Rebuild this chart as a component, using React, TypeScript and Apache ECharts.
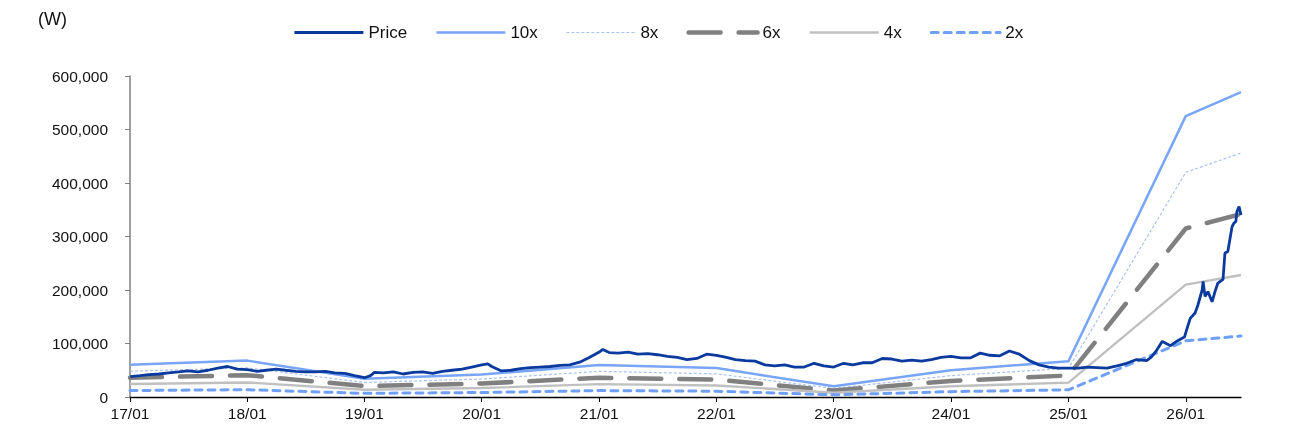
import React, { useEffect, useRef } from "react";
import * as echarts from "echarts";

const FONT = "'Liberation Sans', Arial, sans-serif";

// Series names (legend order)
const seriesNames = ["Price", "10x", "8x", "6x", "4x", "2x"];

// PER band anchor dates (yearly) and band values (won)
const bandDates = [
  "2017-01-01", "2018-01-01", "2019-01-01", "2020-01-01", "2021-01-01",
  "2022-01-01", "2023-01-01", "2024-01-01", "2025-01-01", "2026-01-01", "2026-06-22",
];
const band10x = [60400, 68000, 34000, 42000, 60000, 54000, 20000, 50000, 67000, 525000, 570000];
const band8x = [48300, 54400, 27200, 33600, 48000, 43200, 16000, 40000, 53600, 420000, 456000];
const band6x = [36200, 40800, 20400, 25200, 36000, 32400, 12000, 30000, 40200, 315000, 342000];
const band4x = [24200, 27200, 13600, 16800, 24000, 21600, 8000, 20000, 26800, 210000, 228000];
const band2x = [12100, 13600, 6800, 8400, 12000, 10800, 4000, 10000, 13400, 105000, 114000];

// Share price (won)
const priceDates = [
  "2017-01-02", "2017-02-01", "2017-03-01", "2017-04-01", "2017-05-01", "2017-06-01",
  "2017-07-01", "2017-08-01", "2017-09-01", "2017-10-01", "2017-11-01", "2017-12-01",
  "2018-01-01", "2018-02-01", "2018-03-01", "2018-04-01", "2018-05-01", "2018-06-01",
  "2018-07-01", "2018-08-01", "2018-09-01", "2018-10-01", "2018-11-01", "2018-12-01",
  "2019-01-01", "2019-01-20", "2019-02-01", "2019-03-01", "2019-04-01", "2019-05-01", "2019-06-01",
  "2019-07-01", "2019-08-01", "2019-09-01", "2019-10-01", "2019-11-01", "2019-12-01",
  "2020-01-01", "2020-01-20", "2020-02-01", "2020-03-01", "2020-04-01", "2020-05-01", "2020-06-01",
  "2020-07-01", "2020-08-01", "2020-09-01", "2020-10-01", "2020-11-01", "2020-12-01",
  "2021-01-01", "2021-01-12", "2021-02-01", "2021-03-01", "2021-04-01", "2021-05-01", "2021-06-01",
  "2021-07-01", "2021-08-01", "2021-09-01", "2021-10-01", "2021-11-01", "2021-12-01",
  "2022-01-01", "2022-02-01", "2022-03-01", "2022-04-01", "2022-05-01", "2022-06-01",
  "2022-07-01", "2022-08-01", "2022-09-01", "2022-10-01", "2022-11-01", "2022-12-01",
  "2023-01-01", "2023-02-01", "2023-03-01", "2023-04-01", "2023-05-01", "2023-06-01",
  "2023-07-01", "2023-08-01", "2023-09-01", "2023-10-01", "2023-11-01", "2023-12-01",
  "2024-01-01", "2024-02-01", "2024-03-01", "2024-04-01", "2024-05-01", "2024-06-01",
  "2024-07-01", "2024-08-01", "2024-09-01", "2024-10-01", "2024-11-01", "2024-12-01",
  "2025-01-01", "2025-02-01", "2025-03-01", "2025-04-01", "2025-05-01", "2025-06-01",
  "2025-07-01", "2025-08-01", "2025-09-01", "2025-09-15", "2025-10-01", "2025-10-20",
  "2025-11-01", "2025-11-15", "2025-12-01", "2025-12-15", "2025-12-28",
  "2026-01-06", "2026-01-15", "2026-01-30", "2026-02-08", "2026-02-21", "2026-02-24",
  "2026-03-02", "2026-03-11", "2026-03-24", "2026-04-02", "2026-04-11", "2026-04-27",
  "2026-05-03", "2026-05-12", "2026-05-25", "2026-05-31", "2026-06-06", "2026-06-09",
  "2026-06-16", "2026-06-22",
];
const priceValues = [
  38000, 40000, 42000, 43000, 45000, 47000, 49000, 47000, 50000, 54000, 57000, 52000,
  51000, 48000, 50000, 52000, 50000, 48000, 47000, 47000, 48000, 45000, 44000, 40000,
  36000, 40000, 46000, 45000, 47000, 43000, 46000, 47000, 44000, 48000, 50000, 52000, 56000,
  60000, 62000, 57000, 49000, 50000, 53000, 55000, 56000, 57000, 59000, 60000, 65000, 74000,
  84000, 89000, 83000, 82000, 84000, 80000, 81000, 79000, 76000, 74000, 70000, 72000, 80000,
  78000, 74000, 70000, 68000, 67000, 60000, 58000, 60000, 56000, 56000, 63000, 58000,
  56000, 63000, 60000, 64000, 64000, 72000, 71000, 67000, 69000, 67000, 70000, 74000,
  76000, 73000, 73000, 82000, 78000, 77000, 86000, 80000, 68000, 60000, 56000, 54000,
  54000, 54000, 56000, 55000, 54000, 58000, 63000, 70000, 68000, 74000, 86000, 104000,
  100000, 96000, 103000, 108000, 112000,
  130000, 147000, 157000, 172000, 200000, 216000, 188000, 197000, 178000, 197000, 213000, 220000,
  269000, 272000, 318000, 325000, 328000, 346000, 356000, 340000,
];

const yTicks = [0, 100000, 200000, 300000, 400000, 500000, 600000];

const DAY = 24 * 3600 * 1000;

function pair(dates: string[], vals: number[]) {
  return dates.map((d, i) => [d, vals[i]]);
}

export default function App() {
  const ref = useRef<HTMLDivElement>(null);
  useEffect(() => {
    if (!ref.current) return;
    const chart = echarts.init(ref.current, null, { renderer: "svg" });
    const bandBase = {
      type: "line",
      symbol: "none",
      showSymbol: false,
      smooth: false,
      z: 2,
    };
    chart.setOption({
      animation: false,
      textStyle: { fontFamily: FONT },
      grid: { left: 130, right: 51, top: 76, bottom: 41 },
      legend: {
        data: seriesNames,
        left: 293,
        top: 24,
        padding: 0,
        itemWidth: 69,
        itemHeight: 14,
        itemGap: 28,
        itemStyle: { opacity: 0 },
        lineStyle: { width: "inherit" },
        textStyle: { fontFamily: FONT, fontSize: 17, color: "#111" },
      },
      graphic: [
        {
          type: "text",
          left: 38,
          top: 10,
          style: { text: "(W)", fontFamily: FONT, fontSize: 18, fill: "#111" },
        },
      ],
      xAxis: {
        type: "time",
        min: "2017-01-01",
        max: "2026-06-22",
        minInterval: 365 * DAY,
        maxInterval: 366 * DAY,
        splitLine: { show: false },
        axisLine: { show: true, lineStyle: { color: "#000", width: 1.3 } },
        axisTick: { show: true, length: 5, lineStyle: { color: "#000" } },
        axisLabel: {
          fontFamily: FONT,
          fontSize: 15.5,
          color: "#111",
          margin: 8,
          formatter: (v: number) => {
            const d = new Date(v);
            const yy = String(d.getFullYear() % 100).padStart(2, "0");
            const mm = String(d.getMonth() + 1).padStart(2, "0");
            return `${yy}/${mm}`;
          },
        },
      },
      yAxis: {
        type: "value",
        min: yTicks[0],
        max: yTicks[yTicks.length - 1],
        interval: yTicks[1] - yTicks[0],
        splitLine: { show: false },
        axisLine: { show: true, lineStyle: { color: "#808080", width: 1.5 } },
        axisTick: { show: true, length: 5, lineStyle: { color: "#808080" } },
        axisLabel: {
          fontFamily: FONT,
          fontSize: 15.5,
          color: "#111",
          margin: 22,
          formatter: (v: number) => v.toLocaleString("en-US"),
        },
      },
      series: [
        {
          name: "Price",
          type: "line",
          symbol: "none",
          showSymbol: false,
          z: 10,
          lineStyle: { color: "#0b3a9e", width: 2.8 },
          itemStyle: { color: "#0b3a9e" },
          data: pair(priceDates, priceValues),
        },
        {
          ...bandBase,
          name: "10x",
          lineStyle: { color: "#78a5f7", width: 2.5 },
          itemStyle: { color: "#78a5f7" },
          data: pair(bandDates, band10x),
        },
        {
          ...bandBase,
          name: "8x",
          lineStyle: { color: "#a9c1f3", width: 1.2, type: [3, 2] },
          itemStyle: { color: "#a9c1f3" },
          data: pair(bandDates, band8x),
        },
        {
          ...bandBase,
          name: "6x",
          lineStyle: { color: "#808080", width: 4.5, type: [32, 18], cap: "round" },
          itemStyle: { color: "#808080" },
          data: pair(bandDates, band6x),
        },
        {
          ...bandBase,
          name: "4x",
          lineStyle: { color: "#c0c0c0", width: 2.4 },
          itemStyle: { color: "#c0c0c0" },
          data: pair(bandDates, band4x),
        },
        {
          ...bandBase,
          name: "2x",
          lineStyle: { color: "#70a0f6", width: 3, type: [7, 6], cap: "round" },
          itemStyle: { color: "#70a0f6" },
          data: pair(bandDates, band2x),
        },
      ],
    });
    return () => chart.dispose();
  }, []);
  return (
    <div
      ref={ref}
      style={{ position: "fixed", left: 0, top: 0, width: 1292, height: 438 }}
    />
  );
}
